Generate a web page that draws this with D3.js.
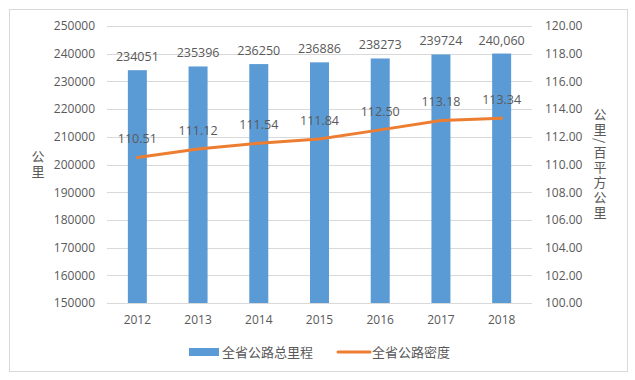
<script src="https://cdn.jsdelivr.net/npm/d3@7"></script>
<style>
    body { margin: 0; background: #fff; font-family: 'Open Sans', 'Noto Sans CJK SC', sans-serif; }
    text { fill: #595959; }
</style>
<svg width="635" height="380"></svg>
<script>
    // chart data
    var years = ["2012", "2013", "2014", "2015", "2016", "2017", "2018"];
    var mileage = [234051, 235396, 236250, 236886, 238273, 239724, 240060];
    var mileageLabels = ["234051", "235396", "236250", "236886", "238273", "239724", "240,060"];
    var density = [110.51, 111.12, 111.54, 111.84, 112.50, 113.18, 113.34];
    var leftTicks = [150000, 160000, 170000, 180000, 190000, 200000, 210000, 220000, 230000, 240000, 250000];
    var rightTicks = [100, 102, 104, 106, 108, 110, 112, 114, 116, 118, 120];
    var seriesNames = ["全省公路总里程", "全省公路密度"];

    var svg = d3.select("svg"),
        margin = {top: 26, right: 103, bottom: 77, left: 107},
        width = 635 - margin.left - margin.right,
        height = 380 - margin.top - margin.bottom,
        g = svg.append("g").attr("transform", "translate(" + margin.left + "," + margin.top + ")");

    var blue = "#5B9BD5", orange = "#ED7D31";

    // outer frame
    svg.append("rect")
        .attr("x", 9.5).attr("y", 9.5)
        .attr("width", 618).attr("height", 362)
        .attr("fill", "none").attr("stroke", "#d9d9d9");

    var x = d3.scaleBand().domain(years).range([0, width]);
    var yL = d3.scaleLinear().domain([150000, 250000]).range([height, 0]);
    var yR = d3.scaleLinear().domain([100, 120]).range([height, 0]);

    // grid lines
    g.append("g").selectAll("line")
        .data(leftTicks)
        .enter().append("line")
        .attr("x1", 0).attr("x2", width)
        .attr("y1", function(d) { return Math.round(yL(d)) + 0.5; })
        .attr("y2", function(d) { return Math.round(yL(d)) + 0.5; })
        .attr("stroke", "#d9d9d9");

    // axes
    var axL = g.append("g")
        .call(d3.axisLeft(yL).tickValues(leftTicks).tickSize(0).tickPadding(12).tickFormat(d3.format("d")));
    var axR = g.append("g")
        .attr("transform", "translate(" + width + ",0)")
        .call(d3.axisRight(yR).tickValues(rightTicks).tickSize(0).tickPadding(13).tickFormat(d3.format(".2f")));
    var axB = g.append("g")
        .attr("transform", "translate(0," + height + ")")
        .call(d3.axisBottom(x).tickSize(0).tickPadding(12));
    [axL, axR, axB].forEach(function(a) {
        a.select(".domain").remove();
        a.selectAll("text").attr("font-size", 12).attr("font-family", "'Open Sans', sans-serif").attr("fill", "#595959");
    });

    // bars
    var barW = 19;
    g.append("g").selectAll("rect")
        .data(mileage)
        .enter().append("rect")
        .attr("x", function(d, i) { return x(years[i]) + x.bandwidth() / 2 - barW / 2; })
        .attr("y", function(d) { return yL(d); })
        .attr("width", barW)
        .attr("height", function(d) { return height - yL(d); })
        .attr("fill", blue);

    g.append("g").selectAll("text")
        .data(mileage)
        .enter().append("text")
        .attr("x", function(d, i) { return x(years[i]) + x.bandwidth() / 2; })
        .attr("y", function(d) { return yL(d) - 9; })
        .attr("text-anchor", "middle")
        .attr("font-size", 12.5)
        .attr("fill", "#404040")
        .text(function(d, i) { return mileageLabels[i]; });

    // density line
    var line = d3.line()
        .x(function(d, i) { return x(years[i]) + x.bandwidth() / 2; })
        .y(function(d) { return yR(d); });
    g.append("path")
        .datum(density)
        .attr("d", line)
        .attr("fill", "none")
        .attr("stroke", orange)
        .attr("stroke-width", 3)
        .attr("stroke-linecap", "round");

    g.append("g").selectAll("text")
        .data(density)
        .enter().append("text")
        .attr("x", function(d, i) { return x(years[i]) + x.bandwidth() / 2; })
        .attr("y", function(d) { return yR(d) - 14; })
        .attr("text-anchor", "middle")
        .attr("font-size", 12.5)
        .attr("fill", "#404040")
        .text(function(d) { return d3.format(".2f")(d); });

    // axis titles
    svg.append("text")
        .attr("x", 38).attr("y", 150)
        .attr("font-size", 13)
        .attr("letter-spacing", 1.5)
        .style("writing-mode", "vertical-rl")
        .attr("font-family", "'Noto Sans CJK SC', sans-serif")
        .text("公里");
    svg.append("text")
        .attr("x", 600).attr("y", 108)
        .attr("font-size", 13)
        .attr("letter-spacing", 2)
        .style("writing-mode", "vertical-rl")
        .attr("font-family", "'Noto Sans CJK SC', sans-serif")
        .text("公里/百平方公里");

    // legend
    var legend = svg.append("g").attr("font-family", "'Noto Sans CJK SC', sans-serif").attr("font-size", 13);
    legend.append("rect")
        .attr("x", 189).attr("y", 348).attr("width", 30).attr("height", 8).attr("fill", blue);
    legend.append("text")
        .attr("x", 222).attr("y", 352).attr("dy", "0.35em").text(seriesNames[0]);
    legend.append("line")
        .attr("x1", 338).attr("x2", 370).attr("y1", 352).attr("y2", 352)
        .attr("stroke", orange).attr("stroke-width", 3).attr("stroke-linecap", "round");
    legend.append("text")
        .attr("x", 372).attr("y", 352).attr("dy", "0.35em").text(seriesNames[1]);
</script>
